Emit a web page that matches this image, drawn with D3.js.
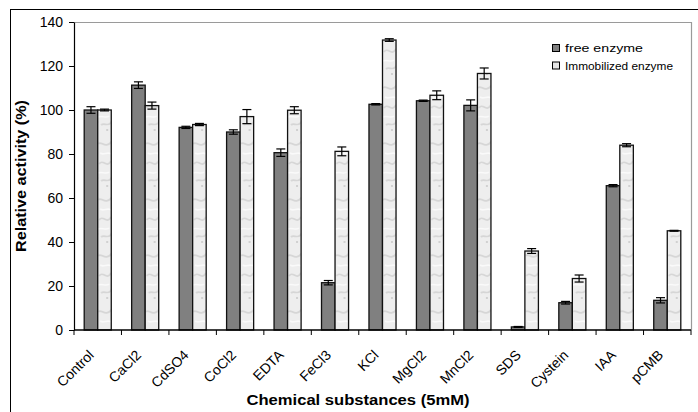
<!DOCTYPE html>
<html>
<head>
<meta charset="utf-8">
<script src="https://d3js.org/d3.v7.min.js"></script>
<style>
  body { margin: 0; background: #fff; }
  text { font-family: "Liberation Sans", Arial, sans-serif; fill: #000; }
</style>
</head>
<body>
<div id="chart"></div>
<script>
const categories = ['Control', 'CaCl2', 'CdSO4', 'CoCl2', 'EDTA', 'FeCl3', 'KCl', 'MgCl2', 'MnCl2', 'SDS', 'Cystein', 'IAA', 'pCMB'];
const seriesNames = ['free enzyme', 'Immobilized enzyme'];
const freeValues = [100, 111.3, 92.1, 90, 80.6, 21.5, 102.6, 104.2, 102.1, 1.4, 12.4, 65.6, 13.5];
const freeErrors = [1.5, 1.5, 0.5, 1, 1.7, 1, 0.3, 0.3, 2.5, 0.2, 0.6, 0.5, 1.2];
const immValues = [100, 102, 93.4, 97, 99.9, 81.2, 131.8, 106.7, 116.6, 35.9, 23.4, 84, 45.1];
const immErrors = [0.4, 1.6, 0.5, 3.2, 1.6, 2, 0.6, 2, 2.5, 1.1, 1.6, 0.7, 0.2];
const yTicks = [0, 20, 40, 60, 80, 100, 120, 140];

const width = 698, height = 412;
const margin = { top: 22, right: 7, bottom: 82, left: 74 };
const innerW = width - margin.left - margin.right;
const innerH = height - margin.top - margin.bottom;

const svg = d3.select('#chart').append('svg')
  .attr('width', width)
  .attr('height', height);

// marble-ish texture for the immobilized bars
const defs = svg.append('defs');
const pat = defs.append('pattern')
  .attr('id', 'marble')
  .attr('patternUnits', 'userSpaceOnUse')
  .attr('width', 14)
  .attr('height', 56);
pat.append('rect').attr('width', 14).attr('height', 56).attr('fill', '#eeeeee');
pat.append('path')
  .attr('d', 'M0,10 C3,6 7,16 14,7 M1,30 C5,24 8,35 13,27 M3,47 C6,44 10,50 14,43')
  .attr('fill', 'none').attr('stroke', '#d6d6d6').attr('stroke-width', 1.8);
pat.append('path')
  .attr('d', 'M2,19 C6,22 9,17 13,20 M0,39 C4,37 8,41 11,38')
  .attr('fill', 'none').attr('stroke', '#fafafa').attr('stroke-width', 1.6);
pat.append('circle').attr('cx', 9).attr('cy', 52).attr('r', 1).attr('fill', '#c8c8c8');

// outer chart border
svg.append('rect')
  .attr('x', 10.5).attr('y', 9.5)
  .attr('width', 700).attr('height', 420)
  .attr('fill', 'none').attr('stroke', '#000').attr('stroke-width', 1);

const g = svg.append('g')
  .attr('transform', 'translate(' + margin.left + ',' + margin.top + ')');

const x0 = d3.scaleBand().domain(categories).range([0, innerW]).paddingInner(0.43).paddingOuter(0.215);
const x1 = d3.scaleBand().domain(seriesNames).range([0, x0.bandwidth()]);
const y = d3.scaleLinear().domain([0, 140]).range([innerH, 0]);
const step = innerW / categories.length;

// plot area top/right border (gray)
g.append('path')
  .attr('d', 'M0,0.5 H' + (innerW + 0.5) + ' V' + innerH)
  .attr('fill', 'none').attr('stroke', '#9a9a9a').attr('stroke-width', 1.2);

const data = categories.map(function(c, i) {
  return [
    { cat: c, s: seriesNames[0], v: freeValues[i], e: freeErrors[i] },
    { cat: c, s: seriesNames[1], v: immValues[i], e: immErrors[i] }
  ];
});

const groups = g.selectAll('g.cat')
  .data(data)
  .enter().append('g')
  .attr('class', 'cat')
  .attr('transform', function(d) { return 'translate(' + x0(d[0].cat) + ',0)'; });

groups.selectAll('rect')
  .data(function(d) { return d; })
  .enter().append('rect')
  .attr('x', function(d) { return x1(d.s); })
  .attr('y', function(d) { return y(d.v); })
  .attr('width', x1.bandwidth())
  .attr('height', function(d) { return innerH - y(d.v); })
  .attr('fill', function(d) { return d.s === seriesNames[0] ? '#808080' : 'url(#marble)'; })
  .attr('stroke', '#111')
  .attr('stroke-width', 1.3);

// error bars
const eb = groups.selectAll('g.err')
  .data(function(d) { return d; })
  .enter().append('g')
  .attr('class', 'err')
  .attr('stroke', '#000')
  .attr('stroke-width', 1.2);
eb.append('line')
  .attr('x1', function(d) { return x1(d.s) + x1.bandwidth() / 2; })
  .attr('x2', function(d) { return x1(d.s) + x1.bandwidth() / 2; })
  .attr('y1', function(d) { return y(d.v + d.e); })
  .attr('y2', function(d) { return y(d.v - d.e); });
['+', '-'].forEach(function(sign) {
  eb.append('line')
    .attr('x1', function(d) { return x1(d.s) + x1.bandwidth() / 2 - 4.5; })
    .attr('x2', function(d) { return x1(d.s) + x1.bandwidth() / 2 + 4.5; })
    .attr('y1', function(d) { return y(sign === '+' ? d.v + d.e : d.v - d.e); })
    .attr('y2', function(d) { return y(sign === '+' ? d.v + d.e : d.v - d.e); });
});

// y axis
const yAxis = g.append('g')
  .call(d3.axisLeft(y).tickValues(yTicks).tickSize(5).tickPadding(6).tickSizeOuter(0));
yAxis.select('.domain').attr('stroke', '#000').attr('stroke-width', 1.2);
yAxis.selectAll('.tick line').attr('stroke', '#000');
yAxis.selectAll('.tick text').style('font-size', '14px').attr('fill', '#000');

// x axis: ticks on category boundaries
const xAxisG = g.append('g').attr('transform', 'translate(0,' + innerH + ')');
xAxisG.append('line')
  .attr('x1', 0).attr('x2', innerW)
  .attr('stroke', '#000').attr('stroke-width', 1.4);
xAxisG.selectAll('line.tk')
  .data(d3.range(categories.length + 1))
  .enter().append('line')
  .attr('class', 'tk')
  .attr('x1', function(i) { return i * step; })
  .attr('x2', function(i) { return i * step; })
  .attr('y1', 0).attr('y2', 5)
  .attr('stroke', '#000');
xAxisG.selectAll('text.lbl')
  .data(categories)
  .enter().append('text')
  .attr('class', 'lbl')
  .attr('transform', function(c) {
    return 'translate(' + (x0(c) + x0.bandwidth() / 2 - 10) + ',19) rotate(-45)';
  })
  .attr('text-anchor', 'end')
  .attr('dy', '0.7em')
  .style('font-size', '14px')
  .text(function(c) { return c; });

// axis titles
svg.append('text')
  .attr('x', 358).attr('y', 405)
  .attr('text-anchor', 'middle')
  .attr('textLength', 223)
  .attr('lengthAdjust', 'spacingAndGlyphs')
  .style('font-size', '14px').style('font-weight', 'bold')
  .text('Chemical substances (5mM)');

svg.append('text')
  .attr('transform', 'translate(26,176) rotate(-90)')
  .attr('text-anchor', 'middle')
  .attr('textLength', 152)
  .attr('lengthAdjust', 'spacingAndGlyphs')
  .style('font-size', '14px').style('font-weight', 'bold')
  .text('Relative activity (%)');

// legend
const legend = svg.append('g').attr('transform', 'translate(552,44)');
const legendLengths = [78, 108];
seriesNames.forEach(function(s, i) {
  const row = legend.append('g').attr('transform', 'translate(0,' + (i * 17.5) + ')');
  row.append('rect')
    .attr('x', 0.5).attr('y', 0.5).attr('width', 7).attr('height', 7)
    .attr('fill', i === 0 ? '#808080' : '#e6e6e6')
    .attr('stroke', '#000').attr('stroke-width', 1);
  row.append('text')
    .attr('x', 13).attr('y', 8)
    .attr('textLength', legendLengths[i])
    .attr('lengthAdjust', 'spacingAndGlyphs')
    .style('font-size', '11.5px')
    .text(s);
});
</script>
</body>
</html>
